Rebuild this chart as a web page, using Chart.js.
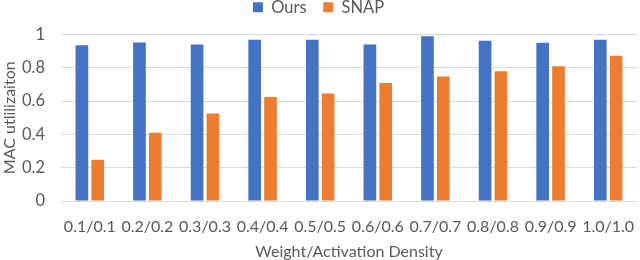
<!DOCTYPE html>
<html>
<head>
<meta charset="utf-8">
<script src="https://cdn.jsdelivr.net/npm/chart.js@4"></script>
<style>
  html, body { margin: 0; padding: 0; background: #fff; }
  #wrap { width: 640px; height: 260px; }
</style>
</head>
<body>
<div id="wrap"><canvas id="macChart"></canvas></div>
<script>
// Chart data
const densityLabels = ['0.1/0.1', '0.2/0.2', '0.3/0.3', '0.4/0.4', '0.5/0.5', '0.6/0.6', '0.7/0.7', '0.8/0.8', '0.9/0.9', '1.0/1.0'];
const oursValues = [0.935, 0.952, 0.940, 0.968, 0.968, 0.940, 0.990, 0.962, 0.950, 0.968];
const snapValues = [0.247, 0.410, 0.526, 0.625, 0.646, 0.709, 0.747, 0.779, 0.809, 0.873];

const textColor = '#595959';
const fontFamily = 'Lato, "Open Sans", sans-serif';

// push the plot area down a bit below the legend
const legendSpacer = {
    id: 'legendSpacer',
    beforeInit(chart) {
        const fit = chart.legend.fit;
        chart.legend.fit = function() {
            fit.call(this);
            this.height += 9;
        };
    }
};

const ctx = document.getElementById('macChart').getContext('2d');
const macChart = new Chart(ctx, {
    type: 'bar',
    data: {
        labels: densityLabels,
        datasets: [{
            label: 'Ours',
            data: oursValues,
            backgroundColor: '#4472C4',
            categoryPercentage: 0.55,
            barPercentage: 0.8
        }, {
            label: 'SNAP',
            data: snapValues,
            backgroundColor: '#ED7D31',
            categoryPercentage: 0.55,
            barPercentage: 0.8
        }]
    },
    plugins: [legendSpacer],
    options: {
        responsive: true,
        maintainAspectRatio: false,
        animation: false,
        layout: {
            padding: { left: 0, right: 3, top: -5, bottom: 0 }
        },
        plugins: {
            legend: {
                position: 'top',
                labels: {
                    boxWidth: 10,
                    boxHeight: 10,
                    padding: 4,
                    color: textColor,
                    font: { family: fontFamily, size: 16.5, lineHeight: 1 },
                    // widen the gap between the two legend items
                    generateLabels: function(chart) {
                        const items = Chart.defaults.plugins.legend.labels.generateLabels(chart);
                        items.forEach((item, i) => {
                            if (i < items.length - 1) item.text += '\u00a0\u00a0\u00a0';
                        });
                        return items;
                    }
                }
            },
            tooltip: { enabled: false }
        },
        scales: {
            x: {
                grid: { display: false, drawTicks: false },
                border: { display: false },
                afterFit: function(scale) {
                    scale.height = 59;
                    scale.paddingLeft = 0;
                    scale.paddingRight = 0;
                },
                ticks: {
                    color: textColor,
                    padding: 18,
                    maxRotation: 0,
                    autoSkip: false,
                    font: { family: fontFamily, size: 16, lineHeight: 1 }
                },
                title: {
                    display: true,
                    text: 'Weight/Activation Density',
                    color: textColor,
                    padding: { top: 0, bottom: 0 },
                    font: { family: fontFamily, size: 16, lineHeight: 1 }
                }
            },
            y: {
                min: 0,
                max: 1,
                grid: { color: '#d9d9d9', drawTicks: false },
                border: { display: false },
                afterFit: function(scale) { scale.width = 61; },
                ticks: {
                    stepSize: 0.2,
                    color: textColor,
                    padding: 16,
                    font: { family: fontFamily, size: 16.5, lineHeight: 1 },
                    callback: function(value) {
                        return String(Math.round(value * 10) / 10);
                    }
                },
                title: {
                    display: true,
                    text: 'MAC utlilizaiton',
                    color: textColor,
                    padding: { top: 2, bottom: 3 },
                    font: { family: fontFamily, size: 16, lineHeight: 1 }
                }
            }
        }
    }
});
</script>
</body>
</html>
